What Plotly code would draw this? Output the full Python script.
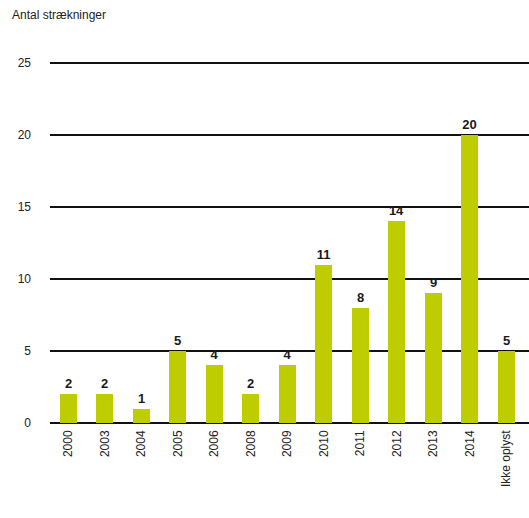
import plotly.graph_objects as go

categories = ["2000", "2003", "2004", "2005", "2006", "2008", "2009", "2010",
              "2011", "2012", "2013", "2014", "Ikke oplyst"]
values = [2, 2, 1, 5, 4, 2, 4, 11, 8, 14, 9, 20, 5]
y_ticks = [0, 5, 10, 15, 20, 25]

fig = go.Figure()
fig.add_trace(go.Bar(
    x=categories, y=values,
    marker=dict(color="#bdcd00", line=dict(width=0)),
    width=0.47,
    text=[str(v) for v in values],
    textposition="outside",
    textfont=dict(family="Liberation Sans, Arial", size=13, color="#1a1a1a", weight="bold"),
    cliponaxis=False,
))

fig.update_layout(
    width=529, height=518,
    margin=dict(l=50, r=0, t=62, b=95),
    paper_bgcolor="white", plot_bgcolor="white",
    showlegend=False,
    font=dict(family="Liberation Sans, Arial", size=12, color="#222"),
    bargap=0,
    uniformtext=dict(minsize=8, mode="show"),
    annotations=[dict(
        text="Antal strækninger", xref="paper", yref="paper",
        x=-40/479, y=1, yshift=38, xanchor="left", yanchor="bottom",
        showarrow=False, font=dict(size=12, color="#222"),
    )],
)
fig.update_xaxes(
    type="category", range=[-0.5, 12.62], automargin=False,
    tickangle=-90, showgrid=False, showline=False, ticks="",
    ticklabelstandoff=4,
    tickfont=dict(size=12, color="#222"),
)
fig.update_yaxes(
    range=[0, 25.08], tickvals=y_ticks, showgrid=True, gridcolor="#111", gridwidth=1.5,
    zeroline=True, zerolinecolor="#111", zerolinewidth=2, automargin=False,
    ticks="", ticklabelstandoff=18, tickfont=dict(size=12, color="#222"),
)

fig.write_html("out.html", config={"displayModeBar": False},
               post_script="document.body.style.margin='0';document.body.style.overflow='hidden';")
